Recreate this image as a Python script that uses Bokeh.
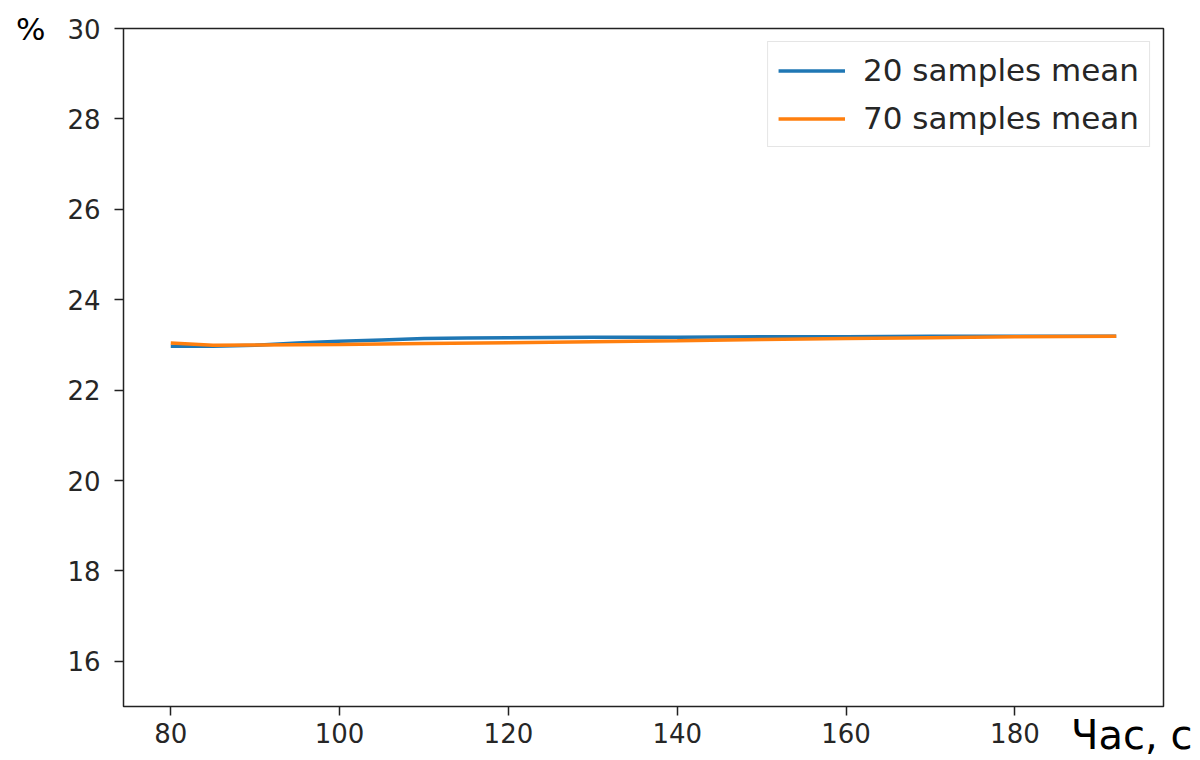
from bokeh.plotting import figure
from bokeh.models import Range1d, FixedTicker, Legend, LegendItem
from bokeh.embed import file_html
from bokeh.resources import INLINE

# Data
x_20 = [80, 85, 90, 95, 100, 105, 110, 115, 120, 130, 140, 150, 160, 170, 180, 192]
y_20 = [22.97, 22.97, 22.99, 23.04, 23.08, 23.11, 23.14, 23.15, 23.16, 23.17, 23.17, 23.18, 23.18, 23.19, 23.19, 23.19]
x_70 = [80, 85, 90, 100, 110, 120, 130, 140, 150, 160, 170, 180, 192]
y_70 = [23.04, 22.99, 23.0, 23.01, 23.03, 23.05, 23.07, 23.09, 23.12, 23.14, 23.16, 23.18, 23.19]
x_ticks = [80, 100, 120, 140, 160, 180]
y_ticks = [16, 18, 20, 22, 24, 26, 28, 30]
series_names = ["20 samples mean", "70 samples mean"]
x_label = "Час, с"
y_label = "%"

FONT = "DejaVu Sans"
PAD = "\u00a0" * 5  # no-break spaces shift the end-aligned x title left, inside the window

p = figure(width=1200, height=760, output_backend="svg", toolbar_location=None,
           x_range=Range1d(74.4, 197.6), y_range=Range1d(15, 30),
           min_border_left=123, min_border_right=37, min_border_top=28, min_border_bottom=53)

r1 = p.line(x_20, y_20, line_color="#1f77b4", line_width=3.5)
r2 = p.line(x_70, y_70, line_color="#ff7f0e", line_width=3.5)

p.xgrid.visible = False
p.ygrid.visible = False
p.outline_line_color = "#222222"
p.outline_line_width = 1.5

for ax in (p.xaxis[0], p.yaxis[0]):
    ax.major_label_text_font = FONT
    ax.major_label_text_font_size = "26px"
    ax.major_label_text_color = "#262626"
    ax.axis_line_color = None
    ax.major_tick_line_color = "#222222"
    ax.major_tick_line_width = 1.5
    ax.major_tick_out = 9
    ax.major_tick_in = 0
    ax.minor_tick_line_color = None
    ax.axis_label_text_font = FONT
    ax.axis_label_text_font_style = "normal"
    ax.axis_label_text_color = "black"
    ax.axis_label_align = "end"

p.xaxis[0].major_label_standoff = 7
p.yaxis[0].major_label_standoff = 14
p.xaxis[0].ticker = FixedTicker(ticks=x_ticks)
p.yaxis[0].ticker = FixedTicker(ticks=y_ticks)

p.xaxis[0].axis_label = x_label + PAD
p.xaxis[0].axis_label_text_font_size = "40px"
p.xaxis[0].axis_label_standoff = -34

p.yaxis[0].axis_label = y_label
p.yaxis[0].axis_label_text_font_size = "31px"
p.yaxis[0].axis_label_orientation = "horizontal"
p.yaxis[0].axis_label_standoff = 19

legend = Legend(items=[LegendItem(label=series_names[0], renderers=[r1]),
                       LegendItem(label=series_names[1], renderers=[r2])],
                location="top_right",
                label_text_font=FONT, label_text_font_size="31px", label_text_color="#262626",
                border_line_color="#cccccc", border_line_width=1.5,
                background_fill_alpha=0.8,
                glyph_width=67, glyph_height=35, label_height=35, label_standoff=18,
                spacing=12, padding=10, margin=13)
p.add_layout(legend)

open("out.html", "w").write(file_html(p, INLINE))
